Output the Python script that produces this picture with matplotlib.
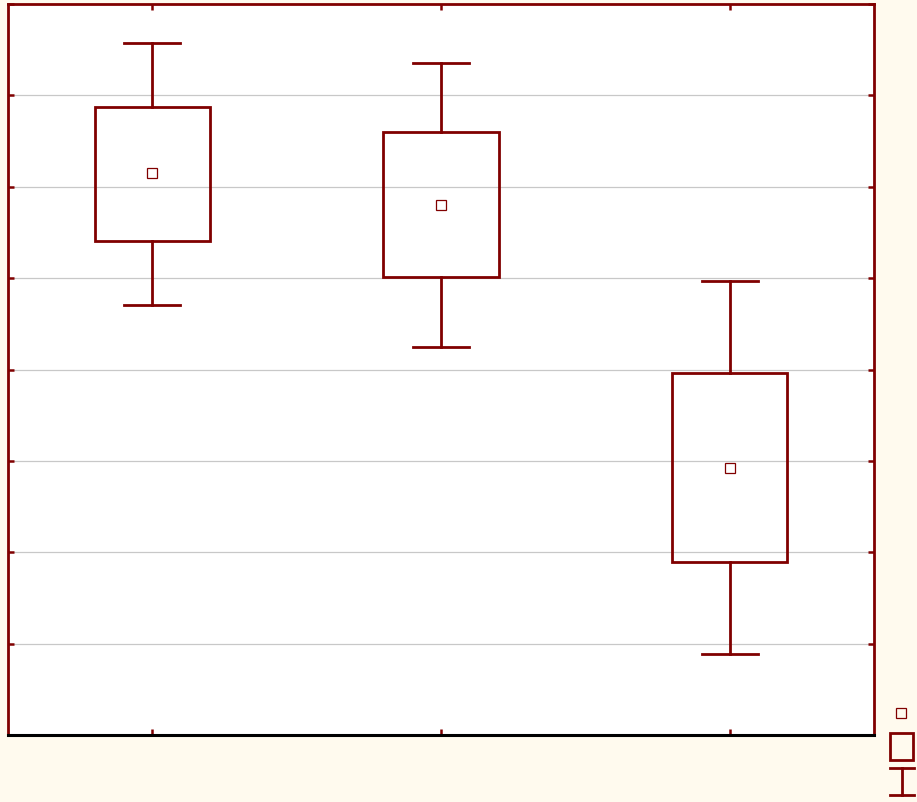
import matplotlib
matplotlib.use("Agg")
import matplotlib.pyplot as plt
from matplotlib.patches import Rectangle
from matplotlib.lines import Line2D

# Data (in axis units)
categories = [1, 2, 3]
means = [6.15, 5.80, 2.92]
box_low = [5.41, 5.01, 1.89]
box_high = [6.87, 6.60, 3.96]
whisk_low = [4.71, 4.25, 0.89]
whisk_high = [7.57, 7.35, 4.97]
y_ticks = [0, 1, 2, 3, 4, 5, 6, 7, 8]

RED = "#800000"
BG = "#fffaee"
LW = 2.0

W, H = 917, 802
fig = plt.figure(figsize=(W / 100, H / 100), dpi=100, facecolor=BG)
ax = fig.add_axes([8 / W, (H - 735) / H, 866 / W, 731 / H])
ax.set_facecolor("white")

box_w = 0.4
cap_w = 0.195
for x, m, bl, bh, wl, wh in zip(categories, means, box_low, box_high, whisk_low, whisk_high):
    ax.plot([x, x], [bh, wh], color=RED, lw=LW, zorder=3)
    ax.plot([x, x], [wl, bl], color=RED, lw=LW, zorder=3)
    ax.plot([x - cap_w / 2, x + cap_w / 2], [wh, wh], color=RED, lw=LW, zorder=3)
    ax.plot([x - cap_w / 2, x + cap_w / 2], [wl, wl], color=RED, lw=LW, zorder=3)
    ax.add_patch(Rectangle((x - box_w / 2, bl), box_w, bh - bl, fill=False,
                           edgecolor=RED, lw=LW, zorder=3))
    ax.plot([x], [m], marker="s", ms=7.8, mfc="white", mec=RED, mew=0.9, zorder=4)

ax.set_xlim(0.5, 3.5)
ax.set_ylim(0, 8)
ax.set_xticks(categories)
ax.set_yticks(y_ticks)
ax.set_xticklabels([])
ax.set_yticklabels([])
ax.grid(axis="y", color="#c8c8c8", lw=0.9, zorder=0)
ax.tick_params(axis="both", direction="in", length=4, width=1.8, color=RED,
               top=True, right=True, labelleft=False, labelbottom=False)
for lbl in ax.xaxis.get_ticklines()[::2]:
    lbl.set_color("black")
for s in ["top", "left", "right"]:
    ax.spines[s].set_color(RED)
    ax.spines[s].set_linewidth(2.0)
ax.spines["bottom"].set_color("black")
ax.spines["bottom"].set_linewidth(2.2)
ax.set_axisbelow(True)

# Legend glyphs (no text) at bottom right
def fx(px):
    return px / W

def fy(py):
    return (H - py) / H

fig.add_artist(Rectangle((fx(896), fy(718)), 10 / W, 10 / H, transform=fig.transFigure,
                         fill=False, edgecolor=RED, lw=0.9))
fig.add_artist(Rectangle((fx(890), fy(760)), 23 / W, 27 / H, transform=fig.transFigure,
                         fill=False, edgecolor=RED, lw=2.0))
fig.add_artist(Line2D([fx(902), fx(902)], [fy(768), fy(795)], transform=fig.transFigure,
                      color=RED, lw=LW))
fig.add_artist(Line2D([fx(890), fx(914)], [fy(768), fy(768)], transform=fig.transFigure,
                      color=RED, lw=LW))
fig.add_artist(Line2D([fx(890), fx(914)], [fy(795), fy(795)], transform=fig.transFigure,
                      color=RED, lw=LW))

fig.savefig("out.png", dpi=100, facecolor=BG)
